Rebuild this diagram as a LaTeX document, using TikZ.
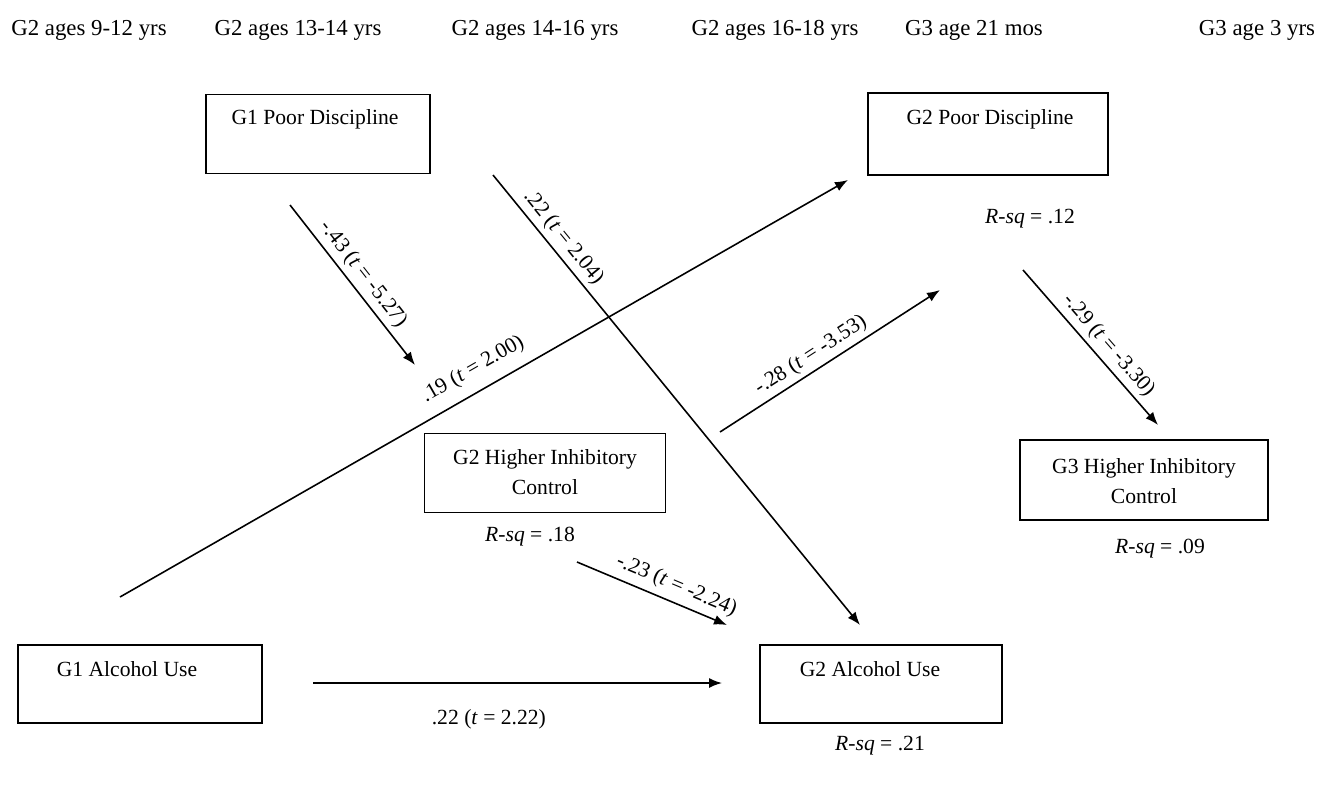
\documentclass[tikz,border=0pt]{standalone}
\usepackage{fontspec}
\setmainfont{Liberation Serif}
\usetikzlibrary{arrows.meta}
\tikzstyle{varbox}=[rectangle, draw, line width=1pt, inner sep=0pt]
\tikzstyle{vartext}=[font=\fontsize{12.3}{17}\selectfont, inner sep=0pt, align=center]
\tikzstyle{agetext}=[font=\fontsize{13}{15}\selectfont, inner sep=0pt]
\tikzstyle{effect}=[draw, line width=0.9pt, -{Latex[length=0.26cm, width=0.2cm]}]
\tikzstyle{coef}=[font=\fontsize{12.3}{14}\selectfont, sloped, inner sep=2.5pt]
\newcommand{\varbox}[6]{
	\node[varbox, minimum width=#3, minimum height=#4] (#1) at (#2) {};
	\node[vartext] (#1-t) at (#5) {#6};}
\newcommand{\rsq}[3]{
	\node[vartext] (#1) at (#2) {\textit{R-sq} = #3};}

\begin{document}
\begin{tikzpicture}[x=0.02cm, y=-0.02cm]
\useasboundingbox (0,0) rectangle (1319,785);

\node[agetext] (h1) at (89,30) {G2 ages 9-12 yrs};
\node[agetext] (h2) at (298,30) {G2 ages 13-14 yrs};
\node[agetext] (h3) at (535,30) {G2 ages 14-16 yrs};
\node[agetext] (h4) at (775,30) {G2 ages 16-18 yrs};
\node[agetext] (h5) at (974,30) {G3 age 21 mos};
\node[agetext] (h6) at (1257,30) {G3 age 3 yrs};

\varbox{g1disc}{318,134}{4.48cm}{1.58cm}{315,119}{G1 Poor Discipline}
\varbox{g2disc}{988,134}{4.8cm}{1.64cm}{990,119}{G2 Poor Discipline}
\rsq{r1}{1030,219}{.12}

\varbox{g2inh}{545,473}{4.82cm}{1.58cm}{545,472}{G2 Higher Inhibitory\\Control}
\rsq{r2}{530,537}{.18}
\varbox{g3inh}{1144,480}{4.96cm}{1.6cm}{1144,481}{G3 Higher Inhibitory\\Control}
\rsq{r3}{1160,549}{.09}

\varbox{g1alc}{140,684}{4.88cm}{1.56cm}{127,669}{G1 Alcohol Use}
\varbox{g2alc}{881,684}{4.84cm}{1.56cm}{870,669}{G2 Alcohol Use}
\rsq{r4}{880,746}{.21}

\coordinate (c1a) at (290,205); \coordinate (c1b) at (415,365);
\coordinate (c2a) at (493,175); \coordinate (c2b) at (860,625);
\coordinate (c3a) at (120,597); \coordinate (c3b) at (848,180);
\coordinate (c4a) at (720,432); \coordinate (c4b) at (940,290);
\coordinate (c5a) at (1023,270); \coordinate (c5b) at (1158,425);
\coordinate (c6a) at (577,562); \coordinate (c6b) at (727,625);
\coordinate (c7a) at (313,683); \coordinate (c7b) at (722,683);

\path (c1a) edge[effect] node[coef, above, pos=0.49] {-.43 (\textit{t} = -5.27)} (c1b);
\path (c2a) edge[effect] node[coef, above, pos=0.16] {.22 (\textit{t} = 2.04)} (c2b);
\path (c3a) edge[effect] node[coef, above=4pt, pos=0.5] {.19 (\textit{t} = 2.00)} (c3b);
\path (c4a) edge[effect] node[coef, above, pos=0.45] {-.28 (\textit{t} = -3.53)} (c4b);
\path (c5a) edge[effect] node[coef, above, pos=0.55] {-.29 (\textit{t} = -3.30)} (c5b);
\path (c6a) edge[effect] node[coef, above=1pt, pos=0.62] {-.23 (\textit{t} = -2.24)} (c6b);
\path (c7a) edge[effect] node[coef, below=12pt, pos=0.43] {.22 (\textit{t} = 2.22)} (c7b);
\end{tikzpicture}
\end{document}
